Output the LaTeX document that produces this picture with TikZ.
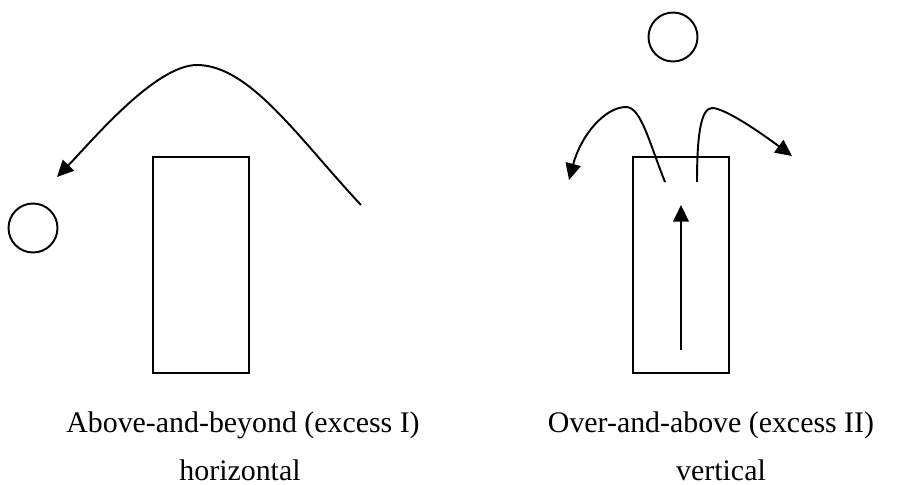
\documentclass[tikz,border=0pt]{standalone}
\usepackage{fontspec}
\setmainfont{Liberation Serif}
\usetikzlibrary{arrows.meta}

\begin{document}
\begin{tikzpicture}[x=0.02cm, y=-0.02cm, line width=1.1pt,
    ball/.style={draw, circle, minimum size=0.98cm, inner sep=0pt},
    block/.style={draw, rectangle, minimum width=1.92cm, minimum height=4.32cm, inner sep=0pt},
    move/.style={-{Triangle[length=0.33cm, width=0.31cm]}},
    caption/.style={anchor=base, inner sep=0pt, font=\fontsize{17}{20}\selectfont}]
    \useasboundingbox (0,0) rectangle (898,484);

    % horizontal excess
    \node[ball] (ballA) at (33,228) {};
    \node[block] (blockA) at (201,265) {};
    \coordinate (jumpA) at (361,205);
    \coordinate (topA) at (197,65);
    \coordinate (landA) at (57,177);
    \draw[move] (jumpA) .. controls (300,140) and (250,65) .. (topA)
        .. controls (155,65) and (91,142) .. (landA);

    \node[caption] (textA) at (243,432) {Above-and-beyond (excess I)};
    \node[caption] (textA2) at (240,480) {horizontal};

    % vertical excess
    \node[ball] (ballB) at (673,37) {};
    \node[block] (blockB) at (681,265) {};
    \coordinate (riseB) at (681,350);
    \coordinate (peakB) at (681,205);
    \draw[move] (riseB) -- (peakB);

    \coordinate (outL) at (665,182);
    \coordinate (topL) at (626,107);
    \coordinate (landL) at (569,180);
    \draw[move] (outL) .. controls (649,142) and (641,107) .. (topL)
        .. controls (605,107) and (581,135) .. (landL);

    \coordinate (outR) at (697,182);
    \coordinate (topR) at (712,108);
    \coordinate (landR) at (792,156);
    \draw[move] (outR) .. controls (697,140) and (700,108) .. (topR)
        .. controls (725,108) and (761,133) .. (landR);

    \node[caption] (textB) at (711,432) {Over-and-above (excess II)};
    \node[caption] (textB2) at (721,480) {vertical};
\end{tikzpicture}
\end{document}
